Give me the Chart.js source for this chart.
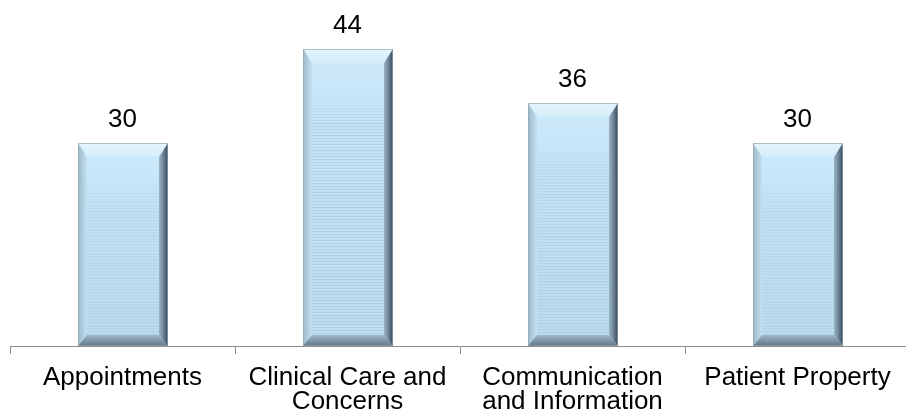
<!DOCTYPE html>
<html>
<head>
<meta charset="utf-8">
<script src="https://cdn.jsdelivr.net/npm/chart.js@4"></script>
<style>
  html, body { margin: 0; padding: 0; background: #fff; overflow: hidden; }
  /* the axis in the original runs slightly past the right edge */
  #wrap { width: 910px; height: 418px; position: relative; }
</style>
</head>
<body>
<div id="wrap"><canvas id="chart"></canvas></div>
<script>
// Data
const categories = [
  'Appointments',
  ['Clinical Care and', 'Concerns'],
  ['Communication', 'and Information'],
  'Patient Property'
]
const counts = [30, 44, 36, 30]

const FONT = '"Liberation Sans", Arial, sans-serif'

// Bevelled, striped bars like the office-style original
const bevelBars = {
  id: 'bevelBars',
  afterDatasetsDraw(chart) {
    const ctx = chart.ctx
    chart.getDatasetMeta(0).data.forEach((bar, i) => {
      const l = Math.round(bar.x - bar.width / 2)
      const r = Math.round(bar.x + bar.width / 2)
      const t = Math.round(bar.y)
      const b = Math.round(bar.base)
      const w = r - l
      const h = b - t
      const es = 9   // side bevel
      const et = 14  // top bevel
      const eb = 11  // bottom bevel

      ctx.save()
      // body
      let g = ctx.createLinearGradient(0, t, 0, b)
      g.addColorStop(0, '#cdeafa')
      g.addColorStop(0.25, '#c4e4f6')
      g.addColorStop(1, '#bcdcef')
      ctx.fillStyle = g
      ctx.fillRect(l, t, w, h)
      // horizontal stripes, fading in below the top
      const stripeStart = t + et + Math.min(30, h * 0.12)
      for (let y = stripeStart; y < b - eb; y += 3) {
        const a = Math.min(1, (y - stripeStart) / 30) * 0.32
        ctx.fillStyle = `rgba(140, 180, 205, ${a})`
        ctx.fillRect(l + es, y, w - 2 * es, 1)
      }
      // top bevel
      g = ctx.createLinearGradient(0, t, 0, t + et)
      g.addColorStop(0, '#e4f4fc')
      g.addColorStop(1, '#d3edfa')
      ctx.fillStyle = g
      ctx.beginPath()
      ctx.moveTo(l, t); ctx.lineTo(r, t); ctx.lineTo(r - es, t + et); ctx.lineTo(l + es, t + et)
      ctx.closePath(); ctx.fill()
      // left bevel
      g = ctx.createLinearGradient(l, 0, l + es, 0)
      g.addColorStop(0, '#9db9ca')
      g.addColorStop(1, '#c2e1f2')
      ctx.fillStyle = g
      ctx.beginPath()
      ctx.moveTo(l, t); ctx.lineTo(l + es, t + et); ctx.lineTo(l + es, b - eb); ctx.lineTo(l, b)
      ctx.closePath(); ctx.fill()
      // right bevel
      g = ctx.createLinearGradient(r - es, 0, r, 0)
      g.addColorStop(0, '#9cb6c6')
      g.addColorStop(0.5, '#6d8496')
      g.addColorStop(1, '#34485a')
      ctx.fillStyle = g
      ctx.beginPath()
      ctx.moveTo(r, t); ctx.lineTo(r, b); ctx.lineTo(r - es, b - eb); ctx.lineTo(r - es, t + et)
      ctx.closePath(); ctx.fill()
      // bottom bevel
      g = ctx.createLinearGradient(0, b - eb, 0, b)
      g.addColorStop(0, '#9fb9c9')
      g.addColorStop(1, '#61778a')
      ctx.fillStyle = g
      ctx.beginPath()
      ctx.moveTo(l, b); ctx.lineTo(l + es, b - eb); ctx.lineTo(r - es, b - eb); ctx.lineTo(r, b)
      ctx.closePath(); ctx.fill()
      // thin outline
      ctx.strokeStyle = 'rgba(150, 165, 175, 0.7)'
      ctx.lineWidth = 1
      ctx.strokeRect(l + 0.5, t + 0.5, w - 1, h - 1)

      // value label
      ctx.fillStyle = '#000'
      ctx.font = '26px ' + FONT
      ctx.textAlign = 'center'
      ctx.textBaseline = 'alphabetic'
      ctx.fillText(String(counts[i]), bar.x, t - 16)
      ctx.restore()
    })
  }
}

new Chart(document.getElementById('chart'), {
  type: 'bar',
  data: {
    labels: categories,
    datasets: [{
      data: counts,
      backgroundColor: 'rgba(0,0,0,0)',
      borderWidth: 0,
      categoryPercentage: 0.4,
      barPercentage: 1
    }]
  },
  options: {
    responsive: true,
    maintainAspectRatio: false,
    animation: false,
    layout: { padding: { left: 10, right: 0, top: 8, bottom: -8 } },
    plugins: {
      legend: { display: false },
      tooltip: { enabled: false }
    },
    scales: {
      x: {
        grid: { drawOnChartArea: false, color: '#8c8c8c', tickLength: 8, offset: true },
        border: { color: '#8c8c8c', width: 1 },
        ticks: {
          color: '#000',
          padding: 12,
          maxRotation: 0,
          autoSkip: false,
          font: { family: FONT, size: 26, lineHeight: '24px' }
        }
      },
      y: {
        display: false,
        min: 0,
        max: 50
      }
    }
  },
  plugins: [bevelBars]
})
</script>
</body>
</html>
